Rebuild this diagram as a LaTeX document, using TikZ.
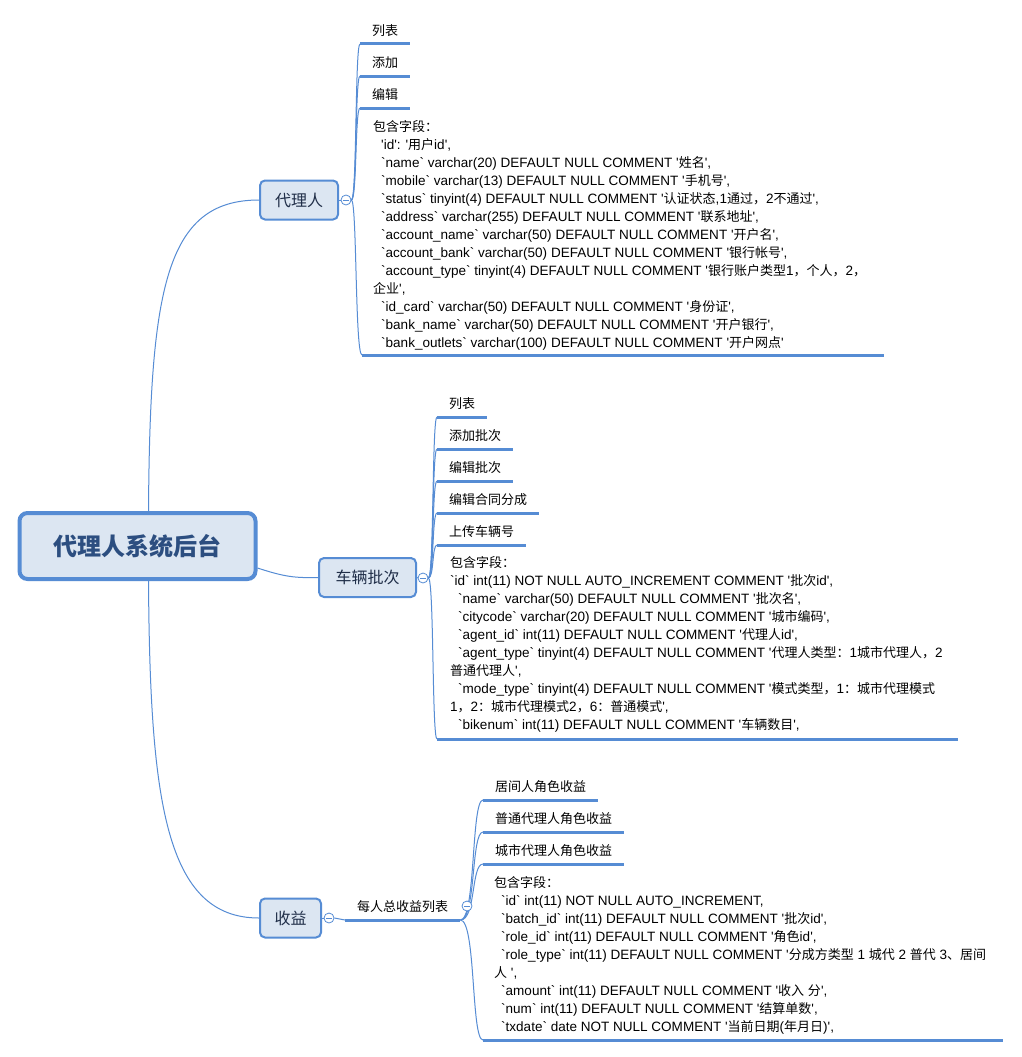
\documentclass[tikz,border=0pt]{standalone}
\usepackage{fontspec}
\usetikzlibrary{backgrounds}
\newfontfamily\latinfont{Liberation Sans}[Scale=1.04]
\newfontfamily\cjkfont{Noto Sans CJK SC}
\XeTeXinterchartokenstate=1
\newXeTeXintercharclass\CJKcls
\newcount\cjkc
\cjkc="4E00
\loop \XeTeXcharclass\cjkc=\CJKcls \ifnum\cjkc<"9FFF \advance\cjkc by 1 \repeat
\cjkc="3000
\loop \XeTeXcharclass\cjkc=\CJKcls \ifnum\cjkc<"303F \advance\cjkc by 1 \repeat
\cjkc="FF00
\loop \XeTeXcharclass\cjkc=\CJKcls \ifnum\cjkc<"FFEF \advance\cjkc by 1 \repeat
\XeTeXinterchartoks 0 \CJKcls = {\cjkfont}
\XeTeXinterchartoks 4095 \CJKcls = {\cjkfont}
\XeTeXinterchartoks \CJKcls 0 = {\latinfont}
\XeTeXinterchartoks \CJKcls 4095 = {\latinfont}
\definecolor{lineblue}{RGB}{86,140,212}
\definecolor{nodefill}{RGB}{220,230,242}
\definecolor{titletext}{RGB}{44,78,128}
\definecolor{subtext}{RGB}{32,46,72}
\begin{document}
\begin{tikzpicture}[x=1pt,y=-1pt,
  every node/.style={inner sep=0pt},
  rootbox/.style={draw=lineblue, line width=4pt, fill=nodefill, rounded corners=8pt,
    minimum width=236pt, minimum height=66pt, text=titletext,
    font=\latinfont\fontsize{24}{28}\selectfont\bfseries},
  subbox/.style={draw=lineblue, line width=2pt, fill=nodefill, rounded corners=5pt,
    minimum height=39pt, text=subtext, font=\latinfont\fontsize{16}{20}\selectfont},
  fold/.style={circle, draw=lineblue, fill=white, line width=0.8pt, minimum size=10pt,
    path picture={\draw[lineblue, line width=0.8pt]
      ([xshift=-2.8pt]path picture bounding box.center) --
      ([xshift=2.8pt]path picture bounding box.center);}},
  item/.style={anchor=south west, inner xsep=12pt, inner ysep=0pt, text height=10pt,
    text depth=8.5pt, font=\latinfont\fontsize{13}{18}\selectfont},
  block/.style={anchor=north west, align=left, font=\latinfont\fontsize{13}{18}\selectfont},
  uline/.style={draw=lineblue, line width=3pt},
  conn/.style={draw=lineblue, line width=1pt},
]
\path[use as bounding box] (0,0) rectangle (1022,1057);

% main topics
\node[rootbox] (root) at (137.5,546) {代理人系统后台};
\node[subbox, minimum width=78pt] (agent) at (299,200) {代理人};
\node[subbox, minimum width=97pt] (batch) at (367.5,577.5) {车辆批次};
\node[subbox, minimum width=61pt] (income) at (290.5,918) {收益};

% branch 1
\node[item] (a1) at (360,44) {列表};
\node[item] (a2) at (360,76) {添加};
\node[item] (a3) at (360,108) {编辑};
\node[block] (a4) at (373,119) {\strut 包含字段：\\
\hspace*{8pt}'id': '用户id',\\
\hspace*{8pt}`name` varchar(20) DEFAULT NULL COMMENT '姓名',\\
\hspace*{8pt}`mobile` varchar(13) DEFAULT NULL COMMENT '手机号',\\
\hspace*{8pt}`status` tinyint(4) DEFAULT NULL COMMENT '认证状态,1通过，2不通过',\\
\hspace*{8pt}`address` varchar(255) DEFAULT NULL COMMENT '联系地址',\\
\hspace*{8pt}`account\_name` varchar(50) DEFAULT NULL COMMENT '开户名',\\
\hspace*{8pt}`account\_bank` varchar(50) DEFAULT NULL COMMENT '银行帐号',\\
\hspace*{8pt}`account\_type` tinyint(4) DEFAULT NULL COMMENT '银行账户类型1，个人，2，\\
企业',\\
\hspace*{8pt}`id\_card` varchar(50) DEFAULT NULL COMMENT '身份证',\\
\hspace*{8pt}`bank\_name` varchar(50) DEFAULT NULL COMMENT '开户银行',\\
\hspace*{8pt}`bank\_outlets` varchar(100) DEFAULT NULL COMMENT '开户网点'};
\coordinate (a4u) at (362,355);
\coordinate (a4e) at (884,355);

% branch 2
\node[item] (b1) at (437,417) {列表};
\node[item] (b2) at (437,449) {添加批次};
\node[item] (b3) at (437,481) {编辑批次};
\node[item] (b4) at (437,513) {编辑合同分成};
\node[item] (b5) at (437,545) {上传车辆号};
\node[block] (b6) at (450,555) {\strut 包含字段：\\
`id` int(11) NOT NULL AUTO\_INCREMENT COMMENT '批次id',\\
\hspace*{8pt}`name` varchar(50) DEFAULT NULL COMMENT '批次名',\\
\hspace*{8pt}`citycode` varchar(20) DEFAULT NULL COMMENT '城市编码',\\
\hspace*{8pt}`agent\_id` int(11) DEFAULT NULL COMMENT '代理人id',\\
\hspace*{8pt}`agent\_type` tinyint(4) DEFAULT NULL COMMENT '代理人类型：1城市代理人，2\\
普通代理人',\\
\hspace*{8pt}`mode\_type` tinyint(4) DEFAULT NULL COMMENT '模式类型，1：城市代理模式\\
1，2：城市代理模式2，6：普通模式',\\
\hspace*{8pt}`bikenum` int(11) DEFAULT NULL COMMENT '车辆数目',};
\coordinate (b6u) at (437,739);
\coordinate (b6e) at (958,739);

% branch 3
\node[item] (sum) at (345,920) {每人总收益列表};
\node[item] (c1) at (483,800) {居间人角色收益};
\node[item] (c2) at (483,832) {普通代理人角色收益};
\node[item] (c3) at (483,864) {城市代理人角色收益};
\node[block] (c4) at (494,875) {\strut 包含字段：\\
\hspace*{7pt}`id` int(11) NOT NULL AUTO\_INCREMENT,\\
\hspace*{7pt}`batch\_id` int(11) DEFAULT NULL COMMENT '批次id',\\
\hspace*{7pt}`role\_id` int(11) DEFAULT NULL COMMENT '角色id',\\
\hspace*{7pt}`role\_type` int(11) DEFAULT NULL COMMENT '分成方类型 1 城代 2 普代 3、居间\\
人 ',\\
\hspace*{7pt}`amount` int(11) DEFAULT NULL COMMENT '收入 分',\\
\hspace*{7pt}`num` int(11) DEFAULT NULL COMMENT '结算单数',\\
\hspace*{7pt}`txdate` date NOT NULL COMMENT '当前日期(年月日)',};
\coordinate (c4u) at (483,1040);
\coordinate (c4e) at (1003,1040);

% underlines
\foreach \n in {a1,a2,a3,b1,b2,b3,b4,b5,sum,c1,c2,c3}
  \draw[uline] (\n.south west) -- (\n.south east);
\draw[uline] (a4u) -- (a4e);
\draw[uline] (b6u) -- (b6e);
\draw[uline] (c4u) -- (c4e);

% fold buttons
\node[fold] (f1) at (346,200) {};
\node[fold] (f2) at (423,578) {};
\node[fold] (f3) at (329,918) {};
\node[fold] (f4) at (467,906) {};

\begin{pgfonlayer}{background}
\fill[white] (0,0) rectangle (1022,1057);
\draw[conn] ([xshift=11pt]root.north) .. controls (150,290) and (165,200) .. (agent.west);
\draw[conn] ([xshift=11pt]root.south) .. controls (150,800) and (165,918) .. (income.west);
\draw[conn] ([yshift=-22pt]root.east) .. controls (285,577) and (295,578) .. (batch.west);
\draw[conn] (agent.east) -- (f1.west);
\draw[conn] (batch.east) -- (f2.west);
\draw[conn] (income.east) -- (f3.west);
\draw[conn] (f3.east) -- (sum.south west);
\foreach \n in {a1,a2,a3}
  \draw[conn] (f1.east) .. controls (357,200) and (355,0 |- \n.south west) .. (\n.south west);
\draw[conn] (f1.east) .. controls (357,200) and (355,355) .. (a4u);
\foreach \n in {b1,b2,b3,b4,b5}
  \draw[conn] (f2.east) .. controls (434,578) and (432,0 |- \n.south west) .. (\n.south west);
\draw[conn] (f2.east) .. controls (434,578) and (432,739) .. (b6u);
\foreach \n in {c1,c2,c3}
  \draw[conn] (sum.south east) .. controls (476,920) and (471,0 |- \n.south west) .. (\n.south west);
\draw[conn] (sum.south east) .. controls (476,920) and (471,1040) .. (c4u);
\end{pgfonlayer}
\end{tikzpicture}
\end{document}
